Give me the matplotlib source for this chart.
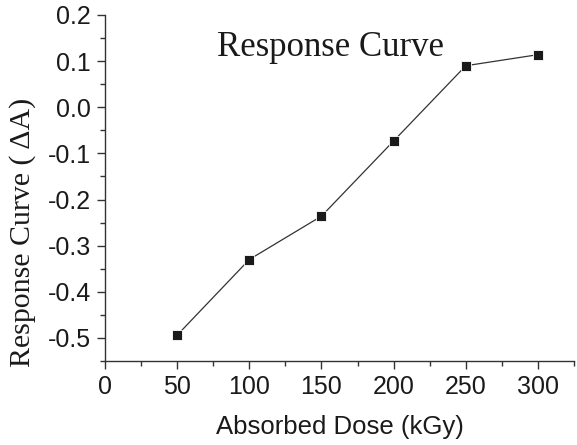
import matplotlib.pyplot as plt
from matplotlib.ticker import MultipleLocator, FormatStrFormatter

# data
dose = [50, 100, 150, 200, 250, 300]
response = [-0.494, -0.330, -0.236, -0.073, 0.090, 0.114]

x_ticks = [0, 50, 100, 150, 200, 250, 300]
y_ticks = [0.2, 0.1, 0.0, -0.1, -0.2, -0.3, -0.4, -0.5]

plt.rcParams['axes.unicode_minus'] = False

fig = plt.figure(figsize=(5.77, 4.45), dpi=100)
ax = fig.add_axes([105 / 577, 1 - 361 / 445, 469 / 577, 346 / 445])

# Plot the curve
ax.plot(dose, response, color='#333333', linewidth=0.9,
        marker='s', markersize=6.5, markerfacecolor='#1a1a1a',
        markeredgecolor='white', markeredgewidth=0.6)

ax.set_xlim(0, 325)
ax.set_ylim(-0.55, 0.2)
ax.set_xticks(x_ticks)
ax.set_yticks(y_ticks)
ax.xaxis.set_minor_locator(MultipleLocator(25))
ax.yaxis.set_minor_locator(MultipleLocator(0.05))
ax.yaxis.set_major_formatter(FormatStrFormatter('%.1f'))

for side in ['top', 'right']:
    ax.spines[side].set_visible(False)
for side in ['left', 'bottom']:
    ax.spines[side].set_color('#333333')
    ax.spines[side].set_linewidth(1.0)

ax.tick_params(which='major', direction='out', length=6, width=1.0, color='#333333',
               labelsize=18, labelcolor='#1a1a1a', pad=4)
ax.tick_params(which='minor', direction='out', length=3.5, width=1.0, color='#333333')
for lab in ax.get_xticklabels() + ax.get_yticklabels():
    lab.set_family('Liberation Sans')

ax.set_xlabel('Absorbed Dose (kGy)', fontsize=18.5, family='Liberation Sans', color='#1a1a1a')
ax.xaxis.set_label_coords(0.5, -0.155)
ax.set_ylabel('Response Curve ( \u0394A)', fontsize=21.5, family='Liberation Serif', color='#1a1a1a')
ax.yaxis.set_label_coords(-0.148, 0.373)

ax.text(0.48, 0.955, 'Response Curve', transform=ax.transAxes, ha='center', va='top',
        fontsize=25, family='Liberation Serif', color='#1a1a1a')

fig.savefig('out.png', dpi=100)
